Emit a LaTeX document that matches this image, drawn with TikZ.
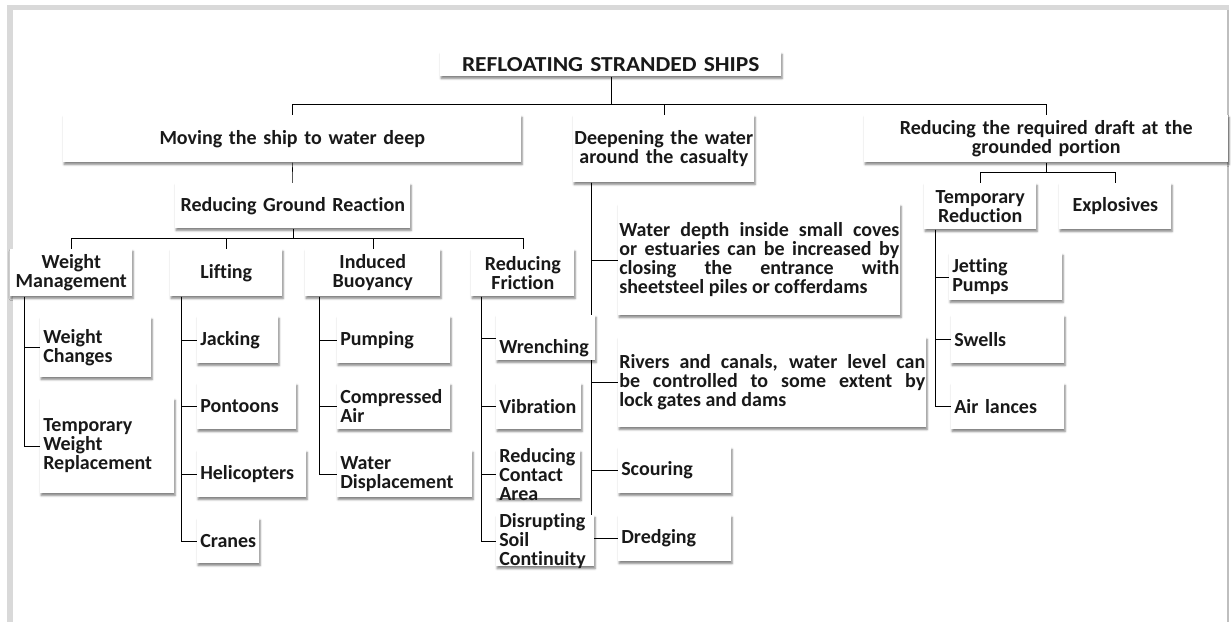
\documentclass[tikz,border=0pt]{standalone}
\usepackage{fontspec}
\setmainfont[Ligatures=NoCommon]{Carlito}
\usetikzlibrary{shadows.blur,backgrounds}

\begin{document}
\begin{tikzpicture}[x=0.75pt, y=-0.75pt,
    font=\bfseries\fontsize{15}{14.25}\selectfont,
    box/.style={fill=white, inner sep=0pt, text=black!90,
      blur shadow={shadow xshift=0.6pt, shadow yshift=-1.6pt, shadow blur radius=1.6pt, shadow opacity=50}},
    mid/.style 2 args={box, anchor=north west, minimum width={#1*0.75pt}, minimum height={#2*0.75pt}, text width={#1*0.75pt}, align=center},
    leaf/.style 2 args={box, anchor=north west, minimum width={#1*0.75pt}, minimum height={#2*0.75pt}, inner xsep=2.25pt, text width={(#1-6)*0.75pt}, align=left},
    para/.style 2 args={leaf={#1}{#2}, inner xsep=0.75pt, text width={(#1-2)*0.75pt}, align=justify},
    link/.style={draw=black!80, line width=0.8pt}]
  \useasboundingbox (0,0) rectangle (1231,622);

  % frame
  \fill[black!15] (7,5) rectangle (1229,10);
  \fill[black!15] (7,5) rectangle (13,622);
  \fill[black!25] (1227,10) rectangle (1229,622);

  % top levels
  \node[mid={341}{24}, font=\bfseries\fontsize{16}{16}\selectfont\addfontfeatures{FakeStretch=1.1}] (root) at (440,52) {REFLOATING STRANDED SHIPS};
  \node[mid={458}{47}] (move) at (63,115) {Moving the ship to water deep};
  \node[mid={181}{67}] (deep) at (573,115) {Deepening the water\\around the casualty};
  \node[mid={364}{47}] (draft) at (864,115) {Reducing the required draft at the\\grounded portion};
  \node[mid={235}{45}] (ground) at (175,183) {Reducing Ground Reaction};
  \node[mid={122}{47}] (weight) at (10,249) {Weight\\Management};
  \node[mid={112}{47}] (lift) at (170,249) {Lifting};
  \node[mid={135}{47}] (buoy) at (305,249) {Induced\\Buoyancy};
  \node[mid={103}{47}] (fric) at (471,249) {Reducing\\Friction};
  \node[mid={112}{46}] (temp) at (924,183) {Temporary\\Reduction};
  \node[mid={112}{46}] (expl) at (1059,183) {Explosives};

  % leaves
  \node[leaf={111}{60}] (wchg) at (40,317) {Weight\\Changes};
  \node[leaf={134}{95}] (twr) at (40,398) {Temporary\\Weight\\Replacement};
  \node[leaf={81}{47}] (jack) at (197,316) {Jacking};
  \node[leaf={99}{46}] (pont) at (197,383) {Pontoons};
  \node[leaf={109}{47}] (heli) at (197,450) {Helicopters};
  \node[leaf={62}{45}] (crane) at (197,518) {Cranes};
  \node[leaf={113}{47}] (pump) at (337,316) {Pumping};
  \node[leaf={113}{46}] (cair) at (337,383) {Compressed\\Air};
  \node[leaf={135}{47}] (wdis) at (337,450) {Water\\Displacement};
  \node[leaf={99}{45}] (wrench) at (496,315) {\rule{0pt}{26pt}Wrenching};
  \node[leaf={85}{46}] (vib) at (496,383) {Vibration};
  \node[leaf={84}{47}, inner ysep=-1.5pt] (rca) at (496,450) {Reducing\\Contact\\Area};
  \node[leaf={98}{48}, inner ysep=-1.5pt] (dsc) at (496,515) {Disrupting\\Soil\\Continuity};
  \node[para={282}{111}] (wdepth) at (618,204) {Water depth inside small coves\linebreak or estuaries can be increased by\linebreak closing the entrance with\linebreak sheetsteel piles or cofferdams};
  \node[para={308}{90}] (rivers) at (618,337) {Rivers and canals, water level can\linebreak be controlled to some extent by\linebreak lock gates and dams};
  \node[leaf={113}{46}] (scour) at (618,447) {Scouring};
  \node[leaf={113}{46}] (dredge) at (618,515) {Dredging};
  \node[leaf={113}{47}] (jet) at (949,253) {Jetting\\Pumps};
  \node[leaf={113}{48}] (swell) at (951,315) {Swells};
  \node[leaf={113}{46}] (airl) at (951,383) {Air lances};

  \begin{scope}[on background layer, link]
    \draw (root.south) -- ++(0,28) coordinate (bus);
    \foreach \n in {move,deep,draft} \draw (bus) -| (\n.north);
    \draw (move) -- (ground);
    \draw (ground.south) -- ++(0,10) coordinate (bus2);
    \foreach \n in {weight,lift,buoy,fric} \draw (bus2) -| (\n.north);
    \draw (draft.south) -- ++(0,10) coordinate (bus3);
    \foreach \n in {temp,expl} \draw (bus3) -| (\n.north);
    % side stems
    \foreach \p/\dx/\kids in {weight/14/{wchg,twr}, lift/11/{jack,pont,heli,crane},
        buoy/14/{pump,cair,wdis}, fric/10/{wrench,vib,rca,dsc},
        deep/18/{wdepth,rivers,scour,dredge}, temp/11/{jet,swell,airl}}
      \foreach \k in \kids \draw ([xshift=\dx*0.75pt]\p.south west) |- (\k.west);
  \end{scope}
\end{tikzpicture}
\end{document}
